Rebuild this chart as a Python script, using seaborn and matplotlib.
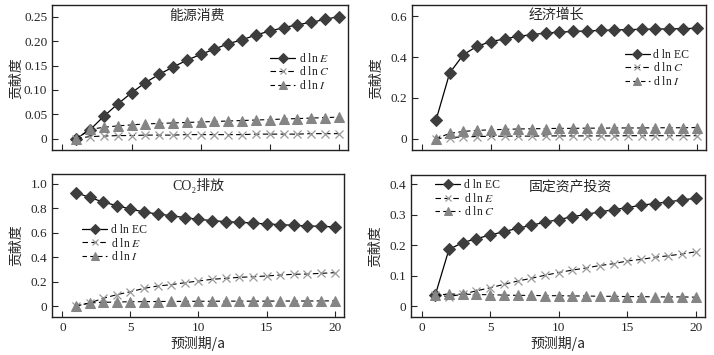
import numpy as np
import matplotlib
matplotlib.use('Agg')
import matplotlib.pyplot as plt
import seaborn as sns

# ========== data ==========
periods = list(range(1, 21))

# 能源消费
energy_lnE = [0, 0.018, 0.046, 0.071, 0.094, 0.115, 0.132, 0.147, 0.161, 0.173,
              0.184, 0.195, 0.203, 0.213, 0.221, 0.228, 0.234, 0.239, 0.245, 0.251]
energy_lnC = [0, 0.004, 0.005, 0.006, 0.006, 0.007, 0.007, 0.007, 0.008, 0.008,
              0.008, 0.008, 0.008, 0.009, 0.009, 0.009, 0.009, 0.010, 0.010, 0.010]
energy_lnI = [0, 0.019, 0.023, 0.026, 0.028, 0.030, 0.031, 0.032, 0.033, 0.034,
              0.035, 0.036, 0.037, 0.038, 0.039, 0.040, 0.041, 0.042, 0.043, 0.044]

# 经济增长
gdp_lnEC = [0.090, 0.322, 0.412, 0.453, 0.476, 0.489, 0.502, 0.510, 0.518, 0.522,
            0.526, 0.528, 0.531, 0.533, 0.535, 0.536, 0.538, 0.538, 0.540, 0.541]
gdp_lnC = [0, 0.005, 0.008, 0.010, 0.011, 0.012, 0.012, 0.012, 0.013, 0.013,
           0.013, 0.013, 0.013, 0.013, 0.014, 0.014, 0.014, 0.014, 0.014, 0.014]
gdp_lnI = [0, 0.025, 0.035, 0.040, 0.043, 0.045, 0.047, 0.048, 0.049, 0.050,
           0.050, 0.051, 0.051, 0.052, 0.052, 0.052, 0.053, 0.053, 0.053, 0.054]

# CO2排放
co2_lnEC = [0.929, 0.890, 0.852, 0.822, 0.795, 0.770, 0.754, 0.740, 0.724, 0.710,
            0.700, 0.691, 0.686, 0.680, 0.672, 0.667, 0.661, 0.656, 0.653, 0.648]
co2_lnE = [0, 0.025, 0.063, 0.093, 0.117, 0.145, 0.164, 0.175, 0.191, 0.205,
           0.219, 0.227, 0.235, 0.240, 0.246, 0.254, 0.260, 0.262, 0.268, 0.273]
co2_lnI = [0, 0.025, 0.030, 0.033, 0.035, 0.036, 0.037, 0.038, 0.038, 0.039,
           0.039, 0.040, 0.040, 0.040, 0.040, 0.041, 0.041, 0.041, 0.042, 0.042]

# 固定资产投资
inv_lnEC = [0.036, 0.186, 0.208, 0.221, 0.233, 0.244, 0.255, 0.265, 0.275, 0.284,
            0.293, 0.301, 0.309, 0.316, 0.323, 0.331, 0.336, 0.342, 0.348, 0.354]
inv_lnE = [0.036, 0.031, 0.039, 0.050, 0.060, 0.071, 0.082, 0.091, 0.101, 0.110,
           0.118, 0.125, 0.133, 0.139, 0.148, 0.153, 0.160, 0.165, 0.171, 0.178]
inv_lnC = [0.036, 0.039, 0.039, 0.038, 0.037, 0.036, 0.035, 0.035, 0.034, 0.034,
           0.033, 0.033, 0.032, 0.032, 0.031, 0.031, 0.030, 0.030, 0.030, 0.029]

# ========== style ==========
sns.set_style('ticks')
plt.rcParams['font.family'] = ['Liberation Serif', 'DejaVu Serif', 'Noto Sans CJK SC']
plt.rcParams['mathtext.fontset'] = 'stix'
plt.rcParams['xtick.direction'] = 'in'
plt.rcParams['ytick.direction'] = 'in'
plt.rcParams['axes.linewidth'] = 1.0
plt.rcParams['axes.edgecolor'] = '#222222'

cjk = ['Noto Sans CJK SC', 'Liberation Serif']
serif_cjk = ['Liberation Serif', 'DejaVu Serif', 'Noto Sans CJK SC']

fig = plt.figure(figsize=(7.14, 3.55), dpi=100)
ax_tl = fig.add_axes([0.073, 0.577, 0.415, 0.408])
ax_tr = fig.add_axes([0.577, 0.577, 0.412, 0.408])
ax_bl = fig.add_axes([0.073, 0.107, 0.409, 0.403])
ax_br = fig.add_axes([0.576, 0.107, 0.412, 0.400])


def draw_solid(ax, y, label):
    sns.lineplot(x=periods, y=y, ax=ax, color='black', lw=0.9, marker='D',
                 markersize=6.3, markerfacecolor='#3d3d3d', markeredgecolor='#3d3d3d',
                 label=label)


def draw_cross(ax, y, label):
    sns.lineplot(x=periods, y=y, ax=ax, color='black', lw=0.8, marker='x',
                 markersize=6, markeredgecolor='#9a9a9a', markeredgewidth=0.9,
                 label=label)
    ax.lines[-1].set_dashes([5, 3])


def draw_tri(ax, y, label):
    sns.lineplot(x=periods, y=y, ax=ax, color='black', lw=0.8, marker='^',
                 markersize=7, markerfacecolor='#858585', markeredgecolor='#858585',
                 label=label)
    ax.lines[-1].set_dashes([4, 3])


draw_solid(ax_tl, energy_lnE, r'd ln $E$')
draw_cross(ax_tl, energy_lnC, r'd ln $C$')
draw_tri(ax_tl, energy_lnI, r'd ln $I$')

draw_solid(ax_tr, gdp_lnEC, 'd ln EC')
draw_cross(ax_tr, gdp_lnC, r'd ln $C$')
draw_tri(ax_tr, gdp_lnI, r'd ln $I$')

draw_solid(ax_bl, co2_lnEC, 'd ln EC')
draw_cross(ax_bl, co2_lnE, r'd ln $E$')
draw_tri(ax_bl, co2_lnI, r'd ln $I$')

draw_solid(ax_br, inv_lnEC, 'd ln EC')
draw_cross(ax_br, inv_lnE, r'd ln $E$')
draw_tri(ax_br, inv_lnC, r'd ln $C$')

# (axes, title, title pos, ylim, yticks, yticklabels, legend anchor)
panels = [
    (ax_tl, '能源消费', (0.49, 0.924), (-0.024, 0.274), [0, 0.05, 0.10, 0.15, 0.20, 0.25],
     ['0', '0.05', '0.10', '0.15', '0.20', '0.25'], (0.736, 0.68)),
    (ax_tr, '经济增长', (0.49, 0.93), (-0.057, 0.654), [0, 0.2, 0.4, 0.6],
     ['0', '0.2', '0.4', '0.6'], (0.724, 0.70)),
    (ax_bl, 'CO\u2082排放', (0.5, 0.916), (-0.09, 1.082), [0, 0.2, 0.4, 0.6, 0.8, 1.0],
     ['0', '0.2', '0.4', '0.6', '0.8', '1.0'], (0.103, 0.65)),
    (ax_br, '固定资产投资', (0.54, 0.92), (-0.036, 0.43), [0, 0.1, 0.2, 0.3, 0.4],
     ['0', '0.1', '0.2', '0.3', '0.4'], (0.082, 0.97)),
]

for ax, title, tpos, ylim, yt, ytl, lpos in panels:
    ax.set_xlim(-0.75, 20.7)
    ax.set_ylim(*ylim)
    ax.set_xticks([0, 5, 10, 15, 20])
    ax.set_yticks(yt)
    ax.set_yticklabels(ytl)
    ax.tick_params(labelsize=9.5, length=4, width=0.8, top=False, right=False)
    for sp in ax.spines.values():
        sp.set_visible(True)
    ax.set_ylabel('贡献度', family=cjk, fontsize=10)
    ax.yaxis.set_label_coords(-0.10, 0.5)
    ax.text(tpos[0], tpos[1], title, transform=ax.transAxes, ha='center', va='center',
            family=serif_cjk, fontsize=10)
    ax.legend(loc='upper left', bbox_to_anchor=lpos, frameon=False, fontsize=8.5,
              handlelength=2.1, handletextpad=0.3, labelspacing=0.05,
              markerscale=0.75, borderpad=0, borderaxespad=0)

for ax in (ax_tl, ax_tr):
    ax.set_xticklabels([])
    ax.set_xlabel('')
for ax in (ax_bl, ax_br):
    ax.set_xlabel('预测期/a', family=cjk, fontsize=10)
    ax.xaxis.set_label_coords(0.5, -0.13)

fig.savefig('out.png', dpi=100)
